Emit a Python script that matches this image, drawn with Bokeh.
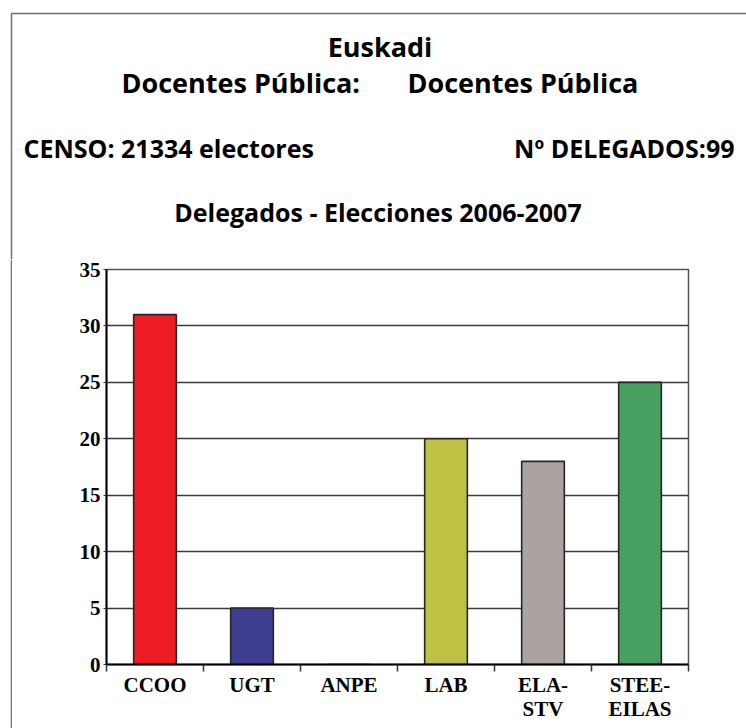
from bokeh.plotting import figure
from bokeh.models import Range1d, FixedTicker, ColumnDataSource
from bokeh.layouts import column, row
from bokeh.core.properties import value
from bokeh.embed import file_html
from bokeh.resources import INLINE

# ---- data ----
categories = ["CCOO", "UGT", "ANPE", "LAB", "ELA-\nSTV", "STEE-\nEILAS"]
delegados = [31, 5, 0, 20, 18, 25]
bar_colors = ["#ED1C24", "#3D3E8F", "#FFFFFF", "#BEC244", "#ABA3A0", "#46A062"]
y_ticks = [0, 5, 10, 15, 20, 25, 30, 35]

title_1 = "Euskadi"
title_2a = "Docentes Pública:"
title_2b = "Docentes Pública"
censo_text = "CENSO: 21334 electores"
delegados_text = "Nº DELEGADOS:99"
chart_title = "Delegados - Elecciones 2006-2007"

PAGE_W, PAGE_H = 746, 728
HEAD_H = 259
STRIP_W = 12
BORDER_X, BORDER_Y = 11, 13
BORDER_COLOR = "#707070"


def no_align(f):
    if "frame_align" in f.properties():
        f.frame_align = False
    return f


def blank(w, h):
    f = figure(width=w, height=h, output_backend="svg", toolbar_location=None,
               title=None,
               x_range=Range1d(0, w), y_range=Range1d(h, 0),
               x_axis_location=None, y_axis_location=None,
               min_border=0, min_border_left=0, min_border_right=0,
               min_border_top=0, min_border_bottom=0,
               background_fill_color="white", border_fill_color="white")
    f.grid.visible = False
    f.outline_line_color = None
    return no_align(f)


# ---- header (titles + top/left part of the page border) ----
head = blank(PAGE_W, HEAD_H)
head.line(x=[PAGE_W, BORDER_X, BORDER_X], y=[BORDER_Y, BORDER_Y, HEAD_H],
          line_color=BORDER_COLOR, line_width=1.5)


def htext(fig, text, x, y, size_px, align="left"):
    # the rendered alphabetic baseline sits ~0.42em low; compensate
    fig.text(x=[x], y=[y - 0.42 * size_px], text=[text], text_font=value("Open Sans"),
             text_font_style="bold", text_font_size=value(f"{size_px}px"),
             text_color="black", text_align=align, text_baseline="alphabetic")


htext(head, title_1, 379.5, 57, 27, "center")
htext(head, title_2a, 121, 93, 27)
htext(head, title_2b, 407, 93, 27)
htext(head, censo_text, 23, 158, 25)
htext(head, delegados_text, 734, 158, 25, "right")
htext(head, chart_title, 377.5, 222, 25, "center")

# ---- left strip carrying the page border down ----
strip = blank(STRIP_W, PAGE_H - HEAD_H)
strip.line(x=[BORDER_X, BORDER_X], y=[0, PAGE_H - HEAD_H],
           line_color=BORDER_COLOR, line_width=1.5)

# ---- chart ----
CW = PAGE_W - STRIP_W
CH = PAGE_H - HEAD_H
FL, FT, FW, FH = 106 - STRIP_W, 269 - HEAD_H, 582, 395
n = len(categories)
positions = [i + 0.5 for i in range(n)]

src = ColumnDataSource(dict(x=positions, top=delegados, color=bar_colors))

p = figure(frame_width=FW, frame_height=FH, output_backend="svg", toolbar_location=None,
           title=None,
           x_range=Range1d(0, n), y_range=Range1d(0, 35),
           min_border_left=FL, min_border_right=CW - FL - FW,
           min_border_top=FT, min_border_bottom=CH - FT - FH,
           background_fill_color="white", border_fill_color="white")
no_align(p)

p.vbar(x="x", top="top", width=0.44, bottom=0, fill_color="color",
       line_color="#262626", line_width=1.6, source=src)

xa = p.xaxis[0]
xa.ticker = FixedTicker(ticks=positions, minor_ticks=list(range(n + 1)))
xa.major_label_overrides = {pos: cat for pos, cat in zip(positions, categories)}
xa.major_tick_out = 0
xa.major_tick_in = 0
xa.minor_tick_out = 7
xa.minor_tick_in = 0
xa.minor_tick_line_color = "#333333"
xa.minor_tick_line_width = 1.5
xa.axis_line_color = "black"
xa.axis_line_width = 2
xa.major_label_text_font = "Liberation Serif"
xa.major_label_text_font_style = "bold"
xa.major_label_text_font_size = "21px"
xa.major_label_text_color = "black"
xa.major_label_standoff = 1
xa.major_label_text_line_height = 1.02

ya = p.yaxis[0]
ya.ticker = FixedTicker(ticks=y_ticks, minor_ticks=[])
ya.major_tick_out = 3
ya.major_tick_in = 0
ya.major_tick_line_color = "#333333"
ya.axis_line_color = "black"
ya.axis_line_width = 2
ya.major_label_text_font = "Liberation Serif"
ya.major_label_text_font_style = "bold"
ya.major_label_text_font_size = "21px"
ya.major_label_text_color = "black"
ya.major_label_standoff = 3

p.xgrid.grid_line_color = None
p.ygrid.ticker = FixedTicker(ticks=y_ticks)
p.ygrid.grid_line_color = "#3a3a3a"
p.ygrid.grid_line_width = 1.3

p.outline_line_color = "#555555"
p.outline_line_width = 1.5

layout = column(head, row(strip, p))
open("out.html", "w").write(file_html(layout, INLINE))
